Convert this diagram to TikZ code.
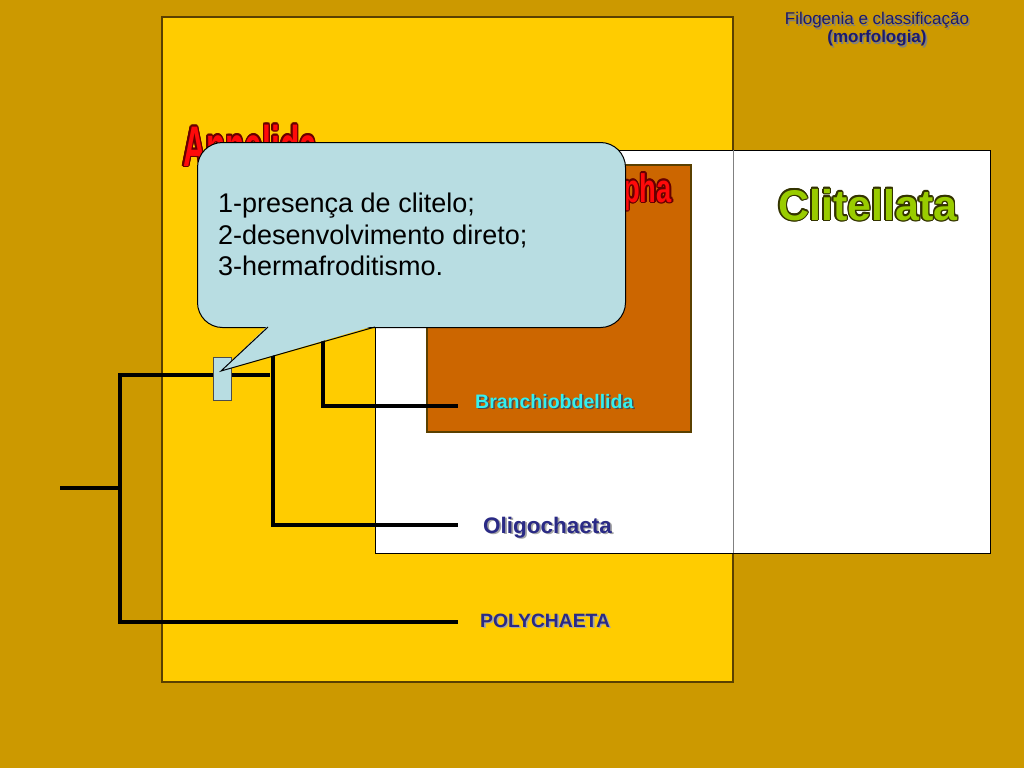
\documentclass[tikz,border=0pt]{standalone}
\usepackage{fontspec}
\setmainfont{Liberation Sans}
\usetikzlibrary{calc}
\definecolor{bg}{HTML}{CC9900}
\definecolor{gold}{HTML}{FFCC00}
\definecolor{rust}{HTML}{CC6600}
\definecolor{callblue}{HTML}{B8DDE2}
\definecolor{boxedge}{HTML}{5A4000}
\definecolor{navy}{HTML}{2A2A85}
\definecolor{titlenavy}{HTML}{1A1A70}
\definecolor{cyanlbl}{HTML}{33F0F0}
\definecolor{lime}{HTML}{99CC00}
\definecolor{olive}{HTML}{333300}
\definecolor{redtxt}{HTML}{FF0A0A}
\definecolor{darkred}{HTML}{660000}
% outlined text: name, options, position, outline colour, text
\newcommand\olnode[5]{%
  \foreach \ang in {0,30,...,330}{\node[#2,text=#4] at ($(#3)+(\ang:1.4)$) {#5};}
  \node[#2] (#1) at (#3) {#5};}
% shadowed text: name, options, position, shadow colour, text
\newcommand\shnode[5]{%
  \node[#2,text=#4] at ($(#3)+(1.6,1.6)$) {#5};
  \node[#2] (#1) at (#3) {#5};}
\begin{document}
\begin{tikzpicture}[x=1pt,y=-1pt,line join=miter,
  branch/.style={line width=4pt,black},
  lbl/.style={inner sep=0pt,anchor=base west},
  panel/.style={draw=boxedge,line width=1.2pt}]
\useasboundingbox (0,0) rectangle (1024,768);
\fill[bg] (0,0) rectangle (1024,768);
% Annelida box
\draw[panel,fill=gold] (162,17) rectangle (733,682);
% Clitellata box
\draw[black,line width=1pt,fill=white] (375,150) rectangle (990,553);
\draw[gray,line width=1pt] (733,150) -- (733,553);
% orange box
\draw[panel,fill=rust] (427,165) rectangle (691,432);
% big titles
\olnode{annelida}{lbl,text=redtxt,font=\fontsize{44}{44}\selectfont\bfseries}{183,166}{darkred}{\scalebox{0.72}[1.3]{Annelida}}
\olnode{pha}{inner sep=0pt,anchor=base east,text=redtxt,font=\fontsize{38}{38}\selectfont\bfseries}{672,202}{darkred}{\scalebox{0.72}[1.05]{pha}}
\olnode{clitellata}{lbl,text=lime,font=\fontsize{43}{43}\selectfont\bfseries}{778,220}{olive}{Clitellata}
% header
\shnode{t1}{inner sep=0pt,anchor=base,text=titlenavy,font=\fontsize{17}{17}\selectfont}{877,25}{gray}{Filogenia e classificação}
\shnode{t2}{inner sep=0pt,anchor=base,text=titlenavy,font=\fontsize{17}{17}\selectfont\bfseries}{877,43}{gray}{(morfologia)}
% tree
\coordinate (root) at (60,488);
\coordinate (n0) at (120,488);
\coordinate (n1) at (120,375);
\coordinate (n1e) at (270,375);
\coordinate (pend) at (458,622);
\coordinate (o1) at (273,327);
\coordinate (oend) at (458,525);
\coordinate (b1) at (323,327);
\coordinate (bend) at (458,406);
\draw[branch] (root) -- (n0);
\draw[branch] (n1e) -- (n1) |- (pend);
\draw[branch] (o1) |- (oend);
\draw[branch] (b1) |- (bend);
% leaf labels
\shnode{branchio}{lbl,text=cyanlbl,font=\fontsize{19.5}{19.5}\selectfont\bfseries}{475,408}{black!70}{Branchiobdellida}
\shnode{oligo}{lbl,text=navy,font=\fontsize{22.5}{22.5}\selectfont\bfseries}{483,533}{gray!70}{Oligochaeta}
\shnode{poly}{lbl,text=navy,font=\fontsize{19.3}{19.3}\selectfont\bfseries}{480,627}{gray!70}{POLYCHAETA}
% marker on the branch
\node[draw=black!70,line width=0.8pt,fill=callblue,minimum width=18pt,minimum height=43pt,inner sep=0pt,anchor=north west] (mark) at (213,357) {};
% callout
\node[draw=black,line width=1pt,fill=callblue,rounded corners=25pt,minimum width=428pt,minimum height=185pt,inner sep=0pt,anchor=north west] (callout) at (197,142) {};
\coordinate (tip) at (221,371);
\coordinate (pl) at (268,327);
\coordinate (pr) at (375,327);
\fill[callblue] ($(pl)+(0,-1.5)$) -- (tip) -- ($(pr)+(0,-1.5)$) -- cycle;
\draw[black,line width=1pt] (pl) -- (tip) -- (pr);
\node[inner sep=0pt,anchor=north west,align=left,font=\fontsize{27}{31.5}\selectfont] (facts) at (218,193)
  {1-presença de clitelo;\\2-desenvolvimento direto;\\3-hermafroditismo.};
\end{tikzpicture}
\end{document}
